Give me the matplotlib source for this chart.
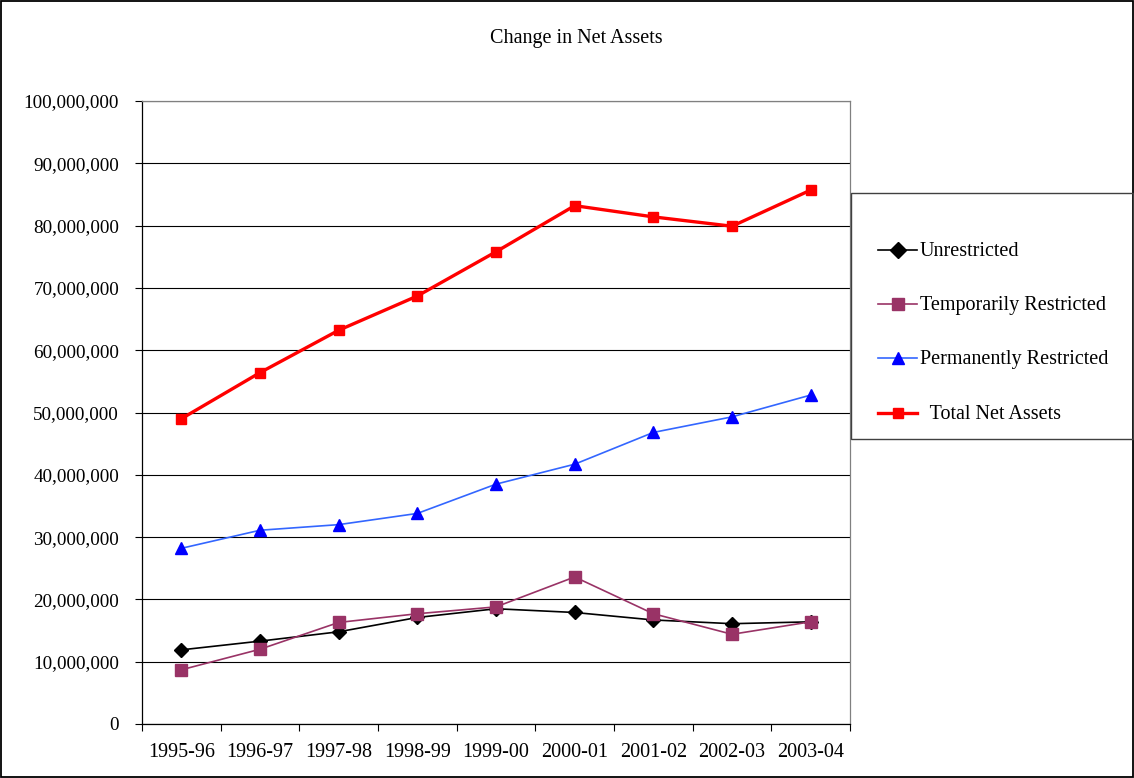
import matplotlib
matplotlib.use("Agg")
import matplotlib.pyplot as plt
from matplotlib.lines import Line2D
from matplotlib.patches import Rectangle
from matplotlib.ticker import FuncFormatter, FixedLocator

years = ["1995-96", "1996-97", "1997-98", "1998-99", "1999-00",
         "2000-01", "2001-02", "2002-03", "2003-04"]
unrestricted = [11.9e6, 13.3e6, 14.8e6, 17.1e6, 18.5e6, 17.9e6, 16.7e6, 16.1e6, 16.4e6]
temporarily = [8.7e6, 12.0e6, 16.3e6, 17.7e6, 18.8e6, 23.6e6, 17.7e6, 14.4e6, 16.4e6]
permanently = [28.2e6, 31.1e6, 32.0e6, 33.8e6, 38.5e6, 41.7e6, 46.8e6, 49.3e6, 52.8e6]
total = [49.0e6, 56.4e6, 63.2e6, 68.7e6, 75.8e6, 83.2e6, 81.4e6, 79.9e6, 85.7e6]
labels = ["Unrestricted", "Temporarily Restricted", "Permanently Restricted",
          "  Total Net Assets"]

plt.rcParams["font.family"] = ["Liberation Serif", "DejaVu Serif"]
FS = 14.5

W, H = 1134, 778
fig = plt.figure(figsize=(W / 100, H / 100), dpi=100)
fig.patch.set_facecolor("white")

# outer frame around the whole chart
fig.patches.append(Rectangle((1 / W, 1 / H), (W - 2) / W, (H - 2) / H,
                             transform=fig.transFigure, fill=False,
                             edgecolor="black", linewidth=1.3))

fig.text(576 / W, 1 - 38 / H, "Change in Net Assets", ha="center", va="center",
         fontsize=FS)

left, right, top, bottom = 142, 850, 101, 724
ax = fig.add_axes([left / W, 1 - bottom / H, (right - left) / W, (bottom - top) / H])

x = list(range(len(years)))
styles = [
    (unrestricted, dict(color="black", lw=1.2, marker="D", ms=7, mfc="black", mec="black")),
    (temporarily, dict(color="#993366", lw=1.2, marker="s", ms=8.5, mfc="#993366", mec="#993366")),
    (permanently, dict(color="#3366FF", lw=1.2, marker="^", ms=8.5, mfc="#0000FF", mec="#0000FF")),
    (total, dict(color="#FF0000", lw=2.4, marker="s", ms=7, mfc="#FF0000", mec="#FF0000")),
]
for vals, st in styles:
    ax.plot(x, vals, zorder=3, clip_on=False, **st)

ax.set_xlim(-0.5, len(years) - 0.5)
ax.set_ylim(0, 100e6)
ax.set_yticks([i * 10e6 for i in range(11)])
ax.yaxis.set_major_formatter(FuncFormatter(lambda v, p: f"{int(round(v)):,}"))
ax.grid(axis="y", color="black", lw=0.8)
ax.set_axisbelow(True)

ax.xaxis.set_major_locator(FixedLocator([i - 0.5 for i in range(len(years) + 1)]))
ax.xaxis.set_minor_locator(FixedLocator(x))
ax.set_xticklabels([])
ax.set_xticklabels(years, minor=True)
ax.tick_params(axis="x", which="major", length=5, width=0.8, direction="out")
ax.tick_params(axis="x", which="minor", length=0, pad=14, labelsize=FS)
ax.tick_params(axis="y", length=5, width=0.8, direction="out", pad=11.5, labelsize=13.8)

for s in ["left", "bottom"]:
    ax.spines[s].set_color("black")
    ax.spines[s].set_linewidth(0.9)
for s in ["top", "right"]:
    ax.spines[s].set_color("#808080")
    ax.spines[s].set_linewidth(0.9)

# legend box at the right of the plot area
lx0, ly0, lx1, ly1 = 851, 193, 1133, 439
fig.patches.append(Rectangle((lx0 / W, 1 - ly1 / H), (lx1 - lx0) / W, (ly1 - ly0) / H,
                             transform=fig.transFigure, fill=False,
                             edgecolor="#404040", linewidth=1.0))
rows = [250, 304, 358, 413]
for (vals, st), lab, yy in zip(styles, labels, rows):
    yf = 1 - yy / H
    fig.lines.append(Line2D([878 / W, 917 / W], [yf, yf], transform=fig.transFigure,
                            color=st["color"], lw=st["lw"]))
    fig.lines.append(Line2D([897.5 / W], [yf], transform=fig.transFigure,
                            linestyle="none", marker=st["marker"],
                            ms=st["ms"] * 1.1, mfc=st["mfc"], mec=st["mec"]))
    fig.text(920 / W, 1 - (yy + 1.5) / H, lab, ha="left", va="center", fontsize=FS)

fig.savefig("out.png", dpi=100)
